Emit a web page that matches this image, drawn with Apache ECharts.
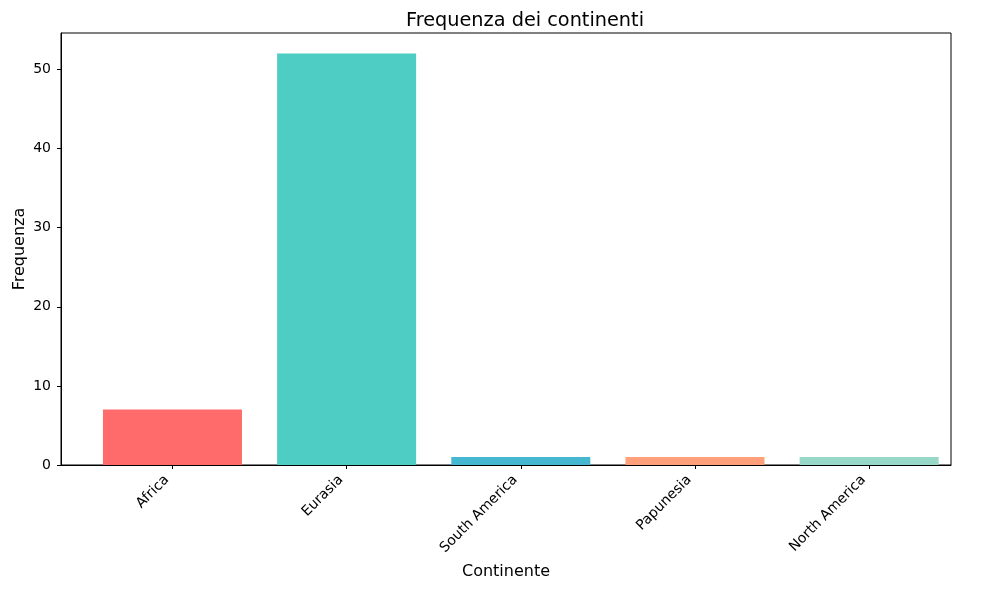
<!DOCTYPE html>
<html>
<head>
<meta charset="utf-8">
<script src="https://cdn.jsdelivr.net/npm/echarts@6/dist/echarts.min.js"></script>
<style>
  html, body { margin: 0; padding: 0; background: #fff; }
  #chart { width: 989px; height: 590px; }
</style>
</head>
<body>
<div id="chart"></div>
<script>
  const continents = ['Africa', 'Eurasia', 'South America', 'Papunesia', 'North America']
  const frequencies = [7, 52, 1, 1, 1]
  const barColors = ['#FF6B6B', '#4ECDC4', '#45B7D1', '#FFA07A', '#98D8C8']
  const yTicks = [0, 10, 20, 30, 40, 50]
  const xTicks = [0, 1, 2, 3, 4]

  const font = 'DejaVu Sans'
  const chart = echarts.init(document.getElementById('chart'))
  chart.setOption({
    backgroundColor: '#fff',
    animation: false,
    title: {
      text: 'Frequenza dei continenti',
      left: 520,
      top: 6,
      textAlign: 'center',
      textStyle: { fontFamily: font, fontSize: 19.3, fontWeight: 'normal', color: '#000' }
    },
    grid: {
      left: 61,
      right: 38,
      top: 33,
      bottom: 125,
      show: true,
      borderColor: '#000',
      borderWidth: 1,
      backgroundColor: 'transparent'
    },
    xAxis: {
      type: 'value',
      min: -0.64,
      max: 4.47,
      name: 'Continente',
      nameLocation: 'middle',
      nameGap: 99,
      nameTextStyle: { fontFamily: font, fontSize: 16, color: '#000' },
      splitLine: { show: false },
      axisLine: { show: true, onZero: false, lineStyle: { color: '#000', width: 1 } },
      axisTick: { show: true, length: 4, lineStyle: { color: '#000' }, customValues: xTicks },
      axisLabel: {
        customValues: xTicks,
        rotate: 45,
        margin: 7,
        padding: [0, 8, 0, 0],
        fontFamily: font,
        fontSize: 14,
        color: '#000',
        formatter: v => continents[v]
      }
    },
    yAxis: {
      type: 'value',
      min: 0,
      max: 54.6,
      name: 'Frequenza',
      nameLocation: 'middle',
      nameGap: 33,
      nameMoveOverlap: false,
      nameTextStyle: { fontFamily: font, fontSize: 16, color: '#000' },
      splitLine: { show: false },
      axisLine: { show: true, onZero: false, lineStyle: { color: '#000', width: 1 } },
      axisTick: { show: true, length: 4, lineStyle: { color: '#000' }, customValues: yTicks },
      axisLabel: { customValues: yTicks, margin: 10, fontFamily: font, fontSize: 14, color: '#000' }
    },
    series: [{
      type: 'bar',
      barWidth: 139,
      data: frequencies.map((v, i) => ({
        value: [i, v],
        itemStyle: { color: barColors[i] }
      }))
    }]
  })
</script>
</body>
</html>
